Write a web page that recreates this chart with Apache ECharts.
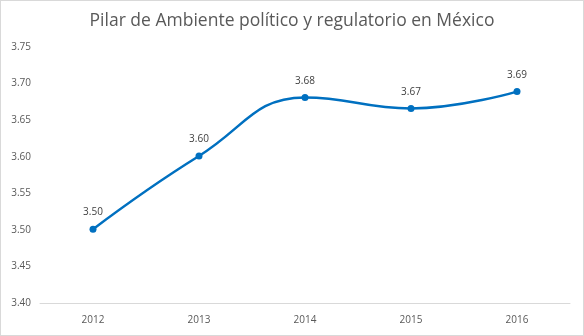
<!DOCTYPE html>
<html><head><meta charset="utf-8">
<script src="https://cdn.jsdelivr.net/npm/echarts@6/dist/echarts.min.js"></script>
<style>html,body{margin:0;padding:0;background:#fff}#c{width:584px;height:336px;box-sizing:border-box;border:1px solid #d9d9d9}</style>
</head><body><div id="c"></div>
<script>
var years = ['2012','2013','2014','2015','2016'];
var values = [3.501, 3.601, 3.681, 3.666, 3.689];
var chart = echarts.init(document.getElementById('c'));
chart.setOption({
  animation: false,
  title: {text: 'Pilar de Ambiente político y regulatorio en México', left: 'center', top: 6,
    textStyle: {fontFamily: 'Open Sans', fontSize: 17.5, fontWeight: 'normal', color: '#595959'}},
  grid: {left: 39, right: 13, top: 46, bottom: 32},
  xAxis: {type: 'category', data: years, boundaryGap: true,
    axisLine: {lineStyle: {color: '#d9d9d9'}}, axisTick: {show: false},
    axisLabel: {color: '#595959', fontFamily: 'Open Sans', fontSize: 10, margin: 12}},
  yAxis: {type: 'value', min: 3.40, max: 3.75, interval: 0.05,
    splitLine: {show: false}, axisLine: {show: false}, axisTick: {show: false},
    axisLabel: {color: '#595959', fontFamily: 'Open Sans', fontSize: 10, margin: 9,
      formatter: function(v){return v.toFixed(2);}}},
  series: [{type: 'line', data: values, smooth: 0.45, symbol: 'circle', symbolSize: 7,
    lineStyle: {color: '#0070C0', width: 2.5}, itemStyle: {color: '#0070C0'},
    label: {show: true, position: 'top', distance: 8, color: '#404040', fontFamily: 'Open Sans', fontSize: 10,
      formatter: function(p){return p.value.toFixed(2);}}}]
});
</script></body></html>
